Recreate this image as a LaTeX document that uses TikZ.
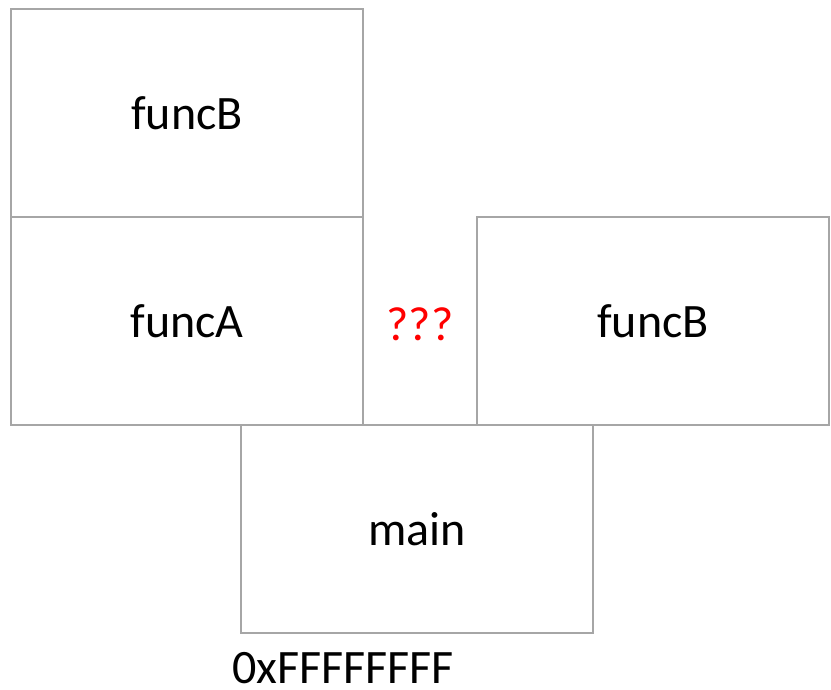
\documentclass[tikz,border=0pt]{standalone}
\usepackage{fontspec}
\setmainfont{Carlito}
\definecolor{framegray}{HTML}{A6A6A6}
\definecolor{qred}{HTML}{FF0000}
\begin{document}
\begin{tikzpicture}[x=1pt,y=-1pt,
  frame/.style={draw=framegray,line width=2pt,fill=white,minimum width=352pt,minimum height=208pt,inner sep=0pt,font=\fontsize{48}{58}\selectfont,anchor=north west},
  lbl/.style={font=\fontsize{48}{58}\selectfont,inner sep=0pt}]
\useasboundingbox (0,0) rectangle (831,689);
\node[frame] (fb1) at (10,8) {funcB};
\node[frame] (fa) at (10,216) {funcA};
\node[frame] (fb2) at (476,216) {funcB};
\node[frame] (mn) at (240,424) {main};
\node[lbl,text=qred] (q) at (420,324) {???};
\node[lbl,text depth=0pt,anchor=base] (addr) at (343,683) {0xFFFFFFFF};
\end{tikzpicture}
\end{document}
